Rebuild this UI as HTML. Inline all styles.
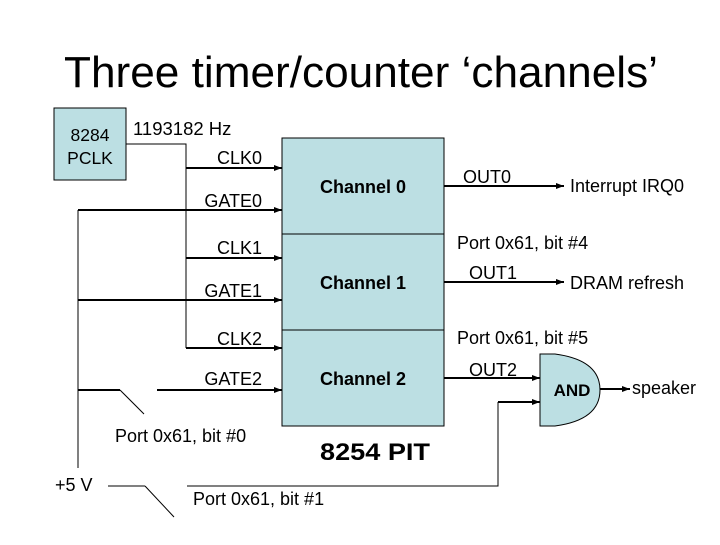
<!DOCTYPE html>
<html><head><meta charset="utf-8"><style>html,body{margin:0;padding:0;background:#fff}</style></head>
<body>
<svg width="720" height="540" viewBox="0 0 720 540" xmlns="http://www.w3.org/2000/svg" font-family="Liberation Sans, sans-serif">
<defs><marker id="a" markerWidth="8" markerHeight="6" refX="8" refY="3" orient="auto" markerUnits="userSpaceOnUse"><path d="M0,0 L8,3 L0,6 z" fill="#000"/></marker></defs>
<text x="361" y="87" font-size="44" text-anchor="middle" textLength="594" lengthAdjust="spacingAndGlyphs">Three timer/counter ‘channels’</text>
<rect x="54" y="108" width="72" height="72" fill="#bcdfe3" stroke="#000"/>
<text x="90" y="141" font-size="17.5" text-anchor="middle">8284</text>
<text x="90" y="164" font-size="17.5" text-anchor="middle">PCLK</text>
<text x="133" y="135" font-size="18.5">1193182 Hz</text>
<rect x="282" y="138" width="162" height="288" fill="#bcdfe3" stroke="#000"/>
<line x1="282" y1="234" x2="444" y2="234" stroke="#000"/>
<line x1="282" y1="330" x2="444" y2="330" stroke="#000"/>
<g font-size="18" font-weight="bold" text-anchor="middle"><text x="363" y="193">Channel 0</text><text x="363" y="289">Channel 1</text><text x="363" y="385">Channel 2</text></g>
<text x="320" y="460" font-size="24" font-weight="bold" textLength="110" lengthAdjust="spacingAndGlyphs">8254 PIT</text>
<g stroke="#000" fill="none">
<polyline points="126,144 186,144 186,348" stroke-width="1"/>
<g stroke-width="2" marker-end="url(#a)">
<line x1="186" y1="168" x2="282" y2="168"/><line x1="78" y1="210" x2="282" y2="210"/>
<line x1="186" y1="258" x2="282" y2="258"/><line x1="78" y1="300" x2="282" y2="300"/>
<line x1="186" y1="348" x2="282" y2="348"/><line x1="157" y1="390" x2="282" y2="390"/>
<line x1="444" y1="186" x2="564" y2="186"/><line x1="444" y1="282" x2="564" y2="282"/>
<line x1="444" y1="378" x2="540" y2="378"/><polyline points="498,402 540,402"/>
<line x1="600" y1="389" x2="630" y2="389"/>
</g>
<line x1="78" y1="390" x2="120" y2="390" stroke-width="2"/>
<line x1="120" y1="390" x2="144" y2="414"/>
<line x1="78" y1="210" x2="78" y2="468"/>
<line x1="108" y1="486" x2="145" y2="486"/><line x1="145" y1="486" x2="174" y2="517"/>
<polyline points="187,486 498,486 498,402"/>
<path d="M540,354 L555,354 Q600,360 600,390 Q600,420 555,426 L540,426 Z" fill="#bcdfe3" stroke-width="1"/>
</g>
<g font-size="18">
<text x="262" y="164" text-anchor="end">CLK0</text><text x="262" y="207" text-anchor="end">GATE0</text>
<text x="262" y="254" text-anchor="end">CLK1</text><text x="262" y="297" text-anchor="end">GATE1</text>
<text x="262" y="345" text-anchor="end">CLK2</text><text x="262" y="385" text-anchor="end">GATE2</text>
<text x="463" y="183">OUT0</text><text x="570" y="192">Interrupt IRQ0</text>
<text x="457" y="249">Port 0x61, bit #4</text>
<text x="469" y="279">OUT1</text><text x="570" y="289">DRAM refresh</text>
<text x="457" y="344">Port 0x61, bit #5</text>
<text x="469" y="376">OUT2</text>
<text x="632" y="394">speaker</text>
<text x="115" y="442">Port 0x61, bit #0</text>
<text x="55" y="491">+5 V</text>
<text x="193" y="505">Port 0x61, bit #1</text>
</g>
<text x="572" y="396" font-size="17" font-weight="bold" text-anchor="middle">AND</text>
</svg>
</body></html>
